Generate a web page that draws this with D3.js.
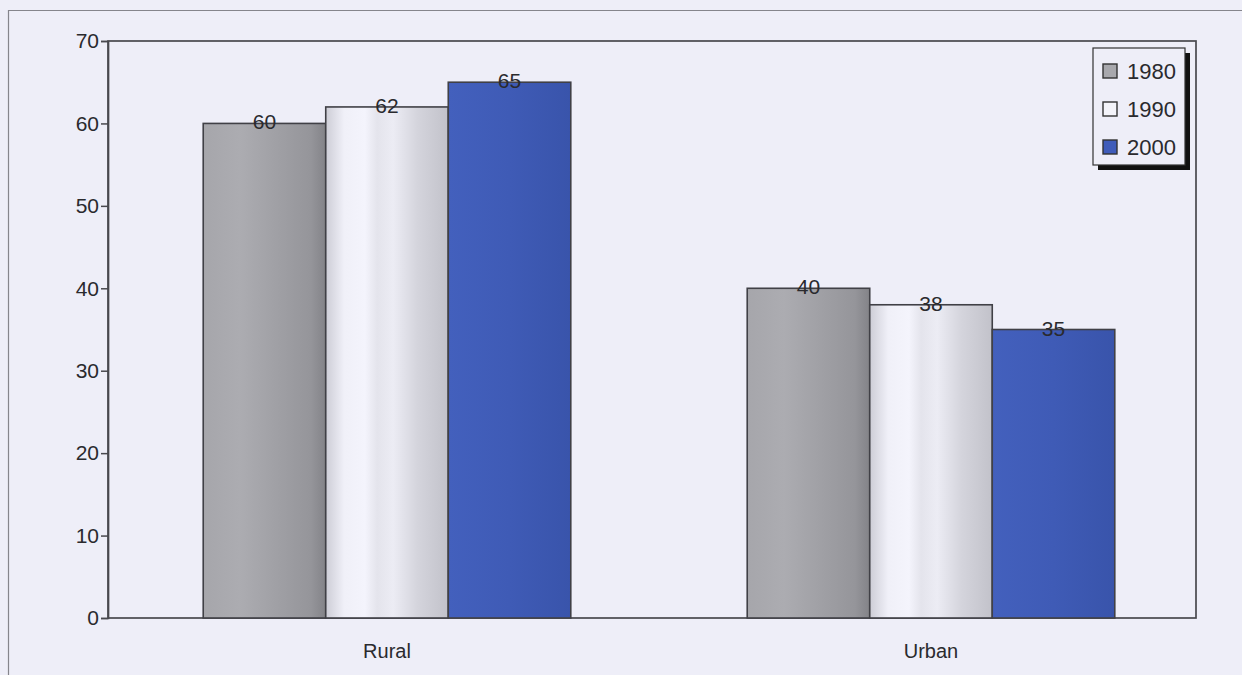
<!DOCTYPE html>
<html>
<head>
<meta charset="utf-8">
<script src="https://cdn.jsdelivr.net/npm/d3@7/dist/d3.min.js"></script>
<style>
  html, body { margin: 0; padding: 0; background: #eeeef8; }
  svg { display: block; }
  text { font-family: "Liberation Sans", Arial, sans-serif; fill: #2a2a2e; }
</style>
</head>
<body>
<svg id="chart" width="1242" height="675"></svg>
<script>
// Chart data
const categories = ["Rural", "Urban"];
const seriesNames = ["1980", "1990", "2000"];
const values1980 = [60, 40];
const values1990 = [62, 38];
const values2000 = [65, 35];
const yTicks = [0, 10, 20, 30, 40, 50, 60, 70];

const seriesValues = [values1980, values1990, values2000];

const W = 1242, H = 675;
const plot = { left: 108, right: 1196, top: 41, bottom: 618 };
const textColor = "#2a2a2e";

const svg = d3.select("#chart");

// Gradient fills giving the bars their shaded look
const defs = svg.append("defs");
const gradStops = {
  "1980": [[0, "#a6a6ab"], [0.3, "#acacb1"], [0.6, "#a0a0a5"], [0.88, "#95959a"], [1, "#838388"]],
  "1990": [[0, "#cdcdd6"], [0.15, "#f0f0f8"], [0.32, "#f4f4fc"], [0.42, "#e4e4ec"], [0.55, "#ececf4"], [0.75, "#d4d4dc"], [1, "#c2c2ca"]],
  "2000": [[0, "#4360bd"], [0.5, "#3f5bb6"], [1, "#3954ab"]]
};
seriesNames.forEach(name => {
  const g = defs.append("linearGradient")
    .attr("id", "grad" + name)
    .attr("x1", "0%").attr("x2", "100%").attr("y1", "0%").attr("y2", "0%");
  gradStops[name].forEach(([o, c]) => g.append("stop").attr("offset", o).attr("stop-color", c));
});
const legendFill = { "1980": "#a8a8ad", "1990": "#f4f4fa", "2000": "#3f5cba" };

// Outer chart border
svg.append("line").attr("x1", 8).attr("x2", W).attr("y1", 10.5).attr("y2", 10.5)
  .attr("stroke", "#85858c").attr("stroke-width", 1.2);
svg.append("line").attr("x1", 8.5).attr("x2", 8.5).attr("y1", 10).attr("y2", H)
  .attr("stroke", "#85858c").attr("stroke-width", 1.2);

// Scales
const x0 = d3.scaleBand().domain(categories).range([plot.left + 7, plot.right + 7]).padding(0);
const x1 = d3.scaleBand().domain(seriesNames).range([0, x0.bandwidth()])
  .paddingInner(0).paddingOuter(0.72);
const y = d3.scaleLinear().domain([0, 70]).range([plot.bottom, plot.top]);

// Plot frame
svg.append("rect")
  .attr("x", plot.left).attr("y", plot.top)
  .attr("width", plot.right - plot.left).attr("height", plot.bottom - plot.top)
  .attr("fill", "none").attr("stroke", "#48484e").attr("stroke-width", 1.7);

// Bars
const groups = svg.append("g").selectAll("g")
  .data(categories)
  .join("g")
  .attr("transform", c => `translate(${x0(c)},0)`);

groups.selectAll("rect")
  .data((c, ci) => seriesNames.map((s, si) => ({ s, v: seriesValues[si][ci] })))
  .join("rect")
  .attr("x", d => x1(d.s))
  .attr("y", d => y(d.v))
  .attr("width", x1.bandwidth())
  .attr("height", d => y(0) - y(d.v))
  .attr("fill", d => `url(#grad${d.s})`)
  .attr("stroke", "#404046")
  .attr("stroke-width", 1.6);

// Value labels straddling the bar tops
groups.selectAll("text")
  .data((c, ci) => seriesNames.map((s, si) => ({ s, v: seriesValues[si][ci] })))
  .join("text")
  .attr("x", d => x1(d.s) + x1.bandwidth() / 2)
  .attr("y", d => y(d.v) + 6)
  .attr("text-anchor", "middle")
  .attr("font-size", 21)
  .text(d => d.v);

// Y axis
const yAxis = d3.axisLeft(y).tickValues(yTicks).tickSize(7).tickPadding(2);
const yg = svg.append("g").attr("transform", `translate(${plot.left},0)`).call(yAxis);
yg.select(".domain").attr("stroke", "#48484e").attr("stroke-width", 1.7);
yg.selectAll(".tick line").attr("stroke", "#48484e").attr("stroke-width", 1.5);
yg.selectAll(".tick text").attr("font-size", 21).attr("fill", textColor)
  .attr("font-family", "Liberation Sans, Arial, sans-serif");

// Category labels
const xAxis = d3.axisBottom(x0).tickSize(0).tickPadding(26);
const xg = svg.append("g").attr("transform", `translate(0,${plot.bottom})`).call(xAxis);
xg.select(".domain").remove();
xg.selectAll(".tick text").attr("font-size", 20).attr("fill", textColor)
  .attr("font-family", "Liberation Sans, Arial, sans-serif");

// Legend with drop shadow
const lg = { x: 1093, y: 48, w: 92, h: 117 };
svg.append("rect").attr("x", lg.x + 5).attr("y", lg.y + 5).attr("width", lg.w).attr("height", lg.h)
  .attr("fill", "#111");
svg.append("rect").attr("x", lg.x).attr("y", lg.y).attr("width", lg.w).attr("height", lg.h)
  .attr("fill", "#eeeef8").attr("stroke", "#333").attr("stroke-width", 1.2);
const legendRow = d3.scalePoint().domain(seriesNames).range([lg.y + 23, lg.y + 99]);
const items = svg.append("g").selectAll("g").data(seriesNames).join("g")
  .attr("transform", s => `translate(${lg.x + 10},${legendRow(s)})`);
items.append("rect").attr("x", 0).attr("y", -7).attr("width", 14).attr("height", 14)
  .attr("fill", s => legendFill[s]).attr("stroke", "#333").attr("stroke-width", 1.4);
items.append("text").attr("x", 24).attr("y", 8).attr("font-size", 22).text(s => s);
</script>
</body>
</html>
